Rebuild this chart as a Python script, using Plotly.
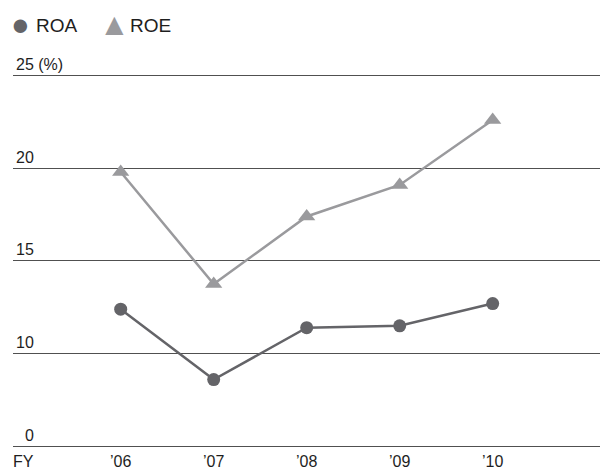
import plotly.graph_objects as go

years = ["\u201906", "\u201907", "\u201908", "\u201909", "\u201910"]
roa = [12.4, 8.6, 11.4, 11.5, 12.7]
roe = [19.8, 13.75, 17.4, 19.1, 22.6]
ytick_vals = [5, 10, 15, 20, 25]
ytick_text = ["\u20070", "10", "15", "20", "25 (%)"]

FONT = "Liberation Sans, Arial, Helvetica, sans-serif"
ROA_C = "#646468"
ROE_C = "#9a9a9d"
TXT = "#1e1e1e"

fig = go.Figure()
fig.add_trace(go.Scatter(x=years, y=roe, mode="lines+markers", name="ROE",
                         line=dict(color=ROE_C, width=2.5),
                         marker=dict(symbol="triangle-up", size=15, color=ROE_C)))
fig.add_trace(go.Scatter(x=years, y=roa, mode="lines+markers", name="ROA",
                         line=dict(color=ROA_C, width=2.5),
                         marker=dict(symbol="circle", size=13, color=ROA_C)))


def ann(text, xs, anchor, size, color=TXT, ys=25):
    return dict(xref="paper", yref="paper", x=0, y=1, xanchor=anchor,
                yanchor="middle", xshift=xs, yshift=ys, showarrow=False,
                text=text, font=dict(size=size, color=color, family=FONT))


fig.update_layout(
    width=600, height=470,
    margin=dict(l=13, r=0, t=50, b=17),
    paper_bgcolor="white", plot_bgcolor="white",
    showlegend=False,
    font=dict(family=FONT, size=16, color=TXT),
    xaxis=dict(type="category", range=[-1.158, 5.154], showgrid=False,
               zeroline=False, showline=False, ticks="",
               tickfont=dict(size=16, color=TXT)),
    yaxis=dict(range=[4.8, 26.38], tickvals=ytick_vals, ticktext=ytick_text,
               ticklabelposition="inside top", showgrid=True,
               gridcolor="#505050", gridwidth=1, zeroline=False, showline=False,
               ticks="", tickfont=dict(size=16, color=TXT)),
    annotations=[
        dict(xref="paper", yref="paper", x=0, y=0, xanchor="left", yanchor="top",
             xshift=-2, yshift=-1, text="FY", showarrow=False,
             font=dict(size=16, color=TXT)),
        ann("\u25CF", 7, "center", 31, ROA_C, 26),
        ann("ROA", 21, "left", 19),
        ann("\u25B2", 101.6, "center", 31, ROE_C, 26),
        ann("ROE", 115, "left", 19),
    ],
)

fig.write_html("out.html", config={"displayModeBar": False},
               post_script="document.body.style.margin='0';document.body.style.padding='0';")
